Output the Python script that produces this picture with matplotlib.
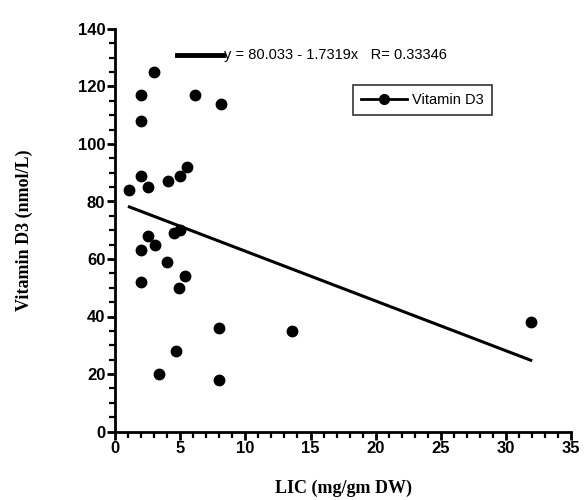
import matplotlib
matplotlib.use("Agg")
import matplotlib.pyplot as plt
import numpy as np
from matplotlib.ticker import MultipleLocator

# LIC (mg/gm DW) vs Vitamin D3 (nmol/L)
lic = [1.1, 2.0, 2.0, 3.0, 6.1, 8.1, 2.0, 2.5, 4.1, 5.0, 5.5,
       2.5, 3.1, 2.0, 4.5, 5.0, 4.0, 2.0, 5.4, 4.9, 8.0, 13.6,
       4.7, 3.4, 8.0, 31.9]
vitd = [84, 117, 108, 125, 117, 114, 89, 85, 87, 89, 92,
        68, 65, 63, 69, 70, 59, 52, 54, 50, 36, 35,
        28, 20, 18, 38]

# regression as printed on the chart
intercept, slope = 80.033, -1.7319
r_text = "y = 80.033 - 1.7319x   R= 0.33346"

fig = plt.figure(figsize=(5.84, 5.0), dpi=100)
ax = fig.add_axes([0.197, 0.137, 0.781, 0.805])

ax.plot(lic, vitd, "o", color="black", markersize=7.5, zorder=3)
xfit = np.array([min(lic), max(lic)])
ax.plot(xfit, intercept + slope * xfit, color="black", lw=2.2, zorder=2)

ax.set_xlim(0, 35); ax.set_ylim(0, 140)
ax.xaxis.set_major_locator(MultipleLocator(5)); ax.xaxis.set_minor_locator(MultipleLocator(1))
ax.yaxis.set_major_locator(MultipleLocator(20)); ax.yaxis.set_minor_locator(MultipleLocator(5))
for s in ("top", "right"):
    ax.spines[s].set_visible(False)
for s in ("left", "bottom"):
    ax.spines[s].set_linewidth(2)
ax.tick_params(which="major", length=6, width=2, direction="out")
ax.tick_params(which="minor", length=4, width=1.6, direction="out")
for lab in ax.get_xticklabels() + ax.get_yticklabels():
    lab.set_fontfamily("Liberation Sans"); lab.set_fontweight("bold"); lab.set_fontsize(12)
ax.tick_params(axis="x", pad=1)
ax.tick_params(axis="y", pad=1)

ax.set_xlabel("LIC (mg/gm DW)", family="Liberation Serif", weight="bold", fontsize=13, labelpad=17)
ax.set_ylabel("Vitamin D3 (nmol/L)", family="Liberation Serif", weight="bold", fontsize=13, labelpad=32)

# equation annotation (line sample + text) in axes coordinates
ax.plot([0.135, 0.236], [0.935, 0.935], transform=ax.transAxes, color="black", lw=3.5, clip_on=False)
ax.text(0.238, 0.935, r_text, transform=ax.transAxes, va="center", ha="left",
        family="Liberation Sans", fontsize=10.5)

leg_h = ax.plot([], [], "-o", color="black", lw=2, markersize=7, label="Vitamin D3")
leg = ax.legend(loc="upper left", bbox_to_anchor=(0.505, 0.88), frameon=True, fancybox=False,
                handlelength=3.2, handletextpad=0.3, borderpad=0.55,
                prop={"family": "Liberation Sans", "size": 10.5})
leg.get_frame().set_edgecolor("black"); leg.get_frame().set_linewidth(1.2)

fig.savefig("out.png", dpi=100)
